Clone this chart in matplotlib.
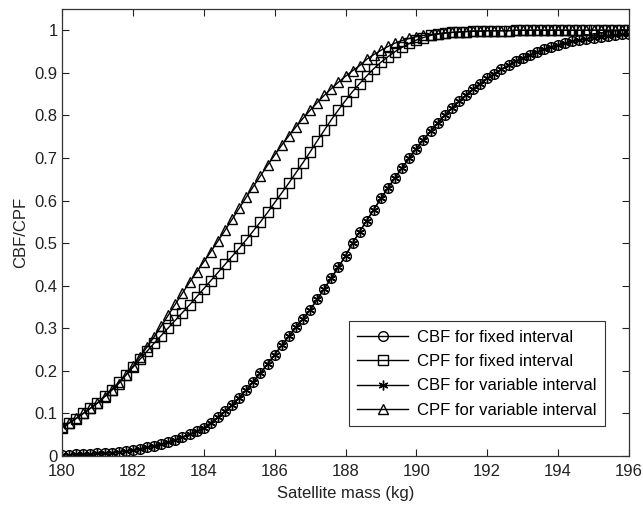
import matplotlib
matplotlib.use("Agg")
import matplotlib.pyplot as plt
import numpy as np

plt.rcParams['font.family'] = ['Liberation Sans', 'DejaVu Sans']

mass = [180.0 + 0.2 * i for i in range(81)]

cbf_fixed = [
    0.003, 0.003, 0.004, 0.004, 0.005, 0.006, 0.007, 0.008, 0.010, 0.012,
    0.014, 0.017, 0.020, 0.024, 0.028, 0.033, 0.038, 0.044, 0.051, 0.058,
    0.066, 0.078, 0.091, 0.105, 0.120, 0.137, 0.155, 0.175, 0.195, 0.216,
    0.238, 0.260, 0.281, 0.302, 0.322, 0.343, 0.368, 0.393, 0.418, 0.444,
    0.470, 0.500, 0.527, 0.553, 0.579, 0.605, 0.630, 0.654, 0.677, 0.700,
    0.722, 0.743, 0.763, 0.782, 0.800, 0.817, 0.833, 0.848, 0.862, 0.875,
    0.887, 0.898, 0.908, 0.918, 0.927, 0.935, 0.942, 0.949, 0.955, 0.961,
    0.966, 0.970, 0.974, 0.977, 0.980, 0.983, 0.985, 0.987, 0.989, 0.991,
    0.992,
]

cbf_variable = [
    0.003, 0.003, 0.004, 0.004, 0.005, 0.006, 0.007, 0.008, 0.010, 0.012,
    0.014, 0.017, 0.020, 0.024, 0.028, 0.033, 0.038, 0.044, 0.051, 0.058,
    0.066, 0.078, 0.091, 0.105, 0.120, 0.137, 0.155, 0.175, 0.195, 0.216,
    0.238, 0.260, 0.281, 0.302, 0.322, 0.343, 0.368, 0.393, 0.418, 0.444,
    0.470, 0.500, 0.527, 0.553, 0.579, 0.605, 0.630, 0.654, 0.677, 0.700,
    0.722, 0.743, 0.763, 0.782, 0.800, 0.817, 0.833, 0.848, 0.862, 0.875,
    0.887, 0.898, 0.908, 0.918, 0.927, 0.935, 0.942, 0.949, 0.955, 0.961,
    0.966, 0.970, 0.974, 0.977, 0.980, 0.983, 0.985, 0.987, 0.989, 0.991,
    0.992,
]

cpf_fixed = [
    0.066, 0.077, 0.088, 0.100, 0.112, 0.124, 0.140, 0.156, 0.173, 0.190,
    0.208, 0.227, 0.246, 0.265, 0.283, 0.301, 0.319, 0.337, 0.355, 0.374,
    0.393, 0.412, 0.431, 0.450, 0.469, 0.488, 0.508, 0.529, 0.550, 0.572,
    0.595, 0.618, 0.641, 0.665, 0.689, 0.714, 0.740, 0.765, 0.790, 0.813,
    0.835, 0.856, 0.875, 0.893, 0.910, 0.925, 0.938, 0.950, 0.960, 0.969,
    0.977, 0.983, 0.988, 0.991, 0.993, 0.995, 0.996, 0.997, 0.998, 0.998,
    0.999, 0.999, 0.999, 0.999, 1.000, 1.000, 1.000, 1.000, 1.000, 1.000,
    1.000, 1.000, 1.000, 1.000, 1.000, 1.000, 1.000, 1.000, 1.000, 1.000,
    1.000,
]

cpf_variable = [
    0.068, 0.078, 0.089, 0.100, 0.112, 0.125, 0.139, 0.154, 0.170, 0.190,
    0.211, 0.233, 0.256, 0.280, 0.305, 0.331, 0.357, 0.383, 0.408, 0.432,
    0.456, 0.480, 0.505, 0.530, 0.556, 0.582, 0.608, 0.633, 0.658, 0.683,
    0.707, 0.730, 0.752, 0.773, 0.793, 0.812, 0.830, 0.847, 0.863, 0.878,
    0.892, 0.905, 0.917, 0.932, 0.943, 0.953, 0.962, 0.970, 0.976, 0.981,
    0.985, 0.988, 0.990, 0.992, 0.994, 0.995, 0.996, 0.997, 0.998, 0.998,
    0.999, 0.999, 0.999, 0.999, 1.000, 1.000, 1.000, 1.000, 1.000, 1.000,
    1.000, 1.000, 1.000, 1.000, 1.000, 1.000, 1.000, 1.000, 1.000, 1.000,
    1.000,
]

labels = ["CBF for fixed interval", "CPF for fixed interval",
          "CBF for variable interval", "CPF for variable interval"]
xticks = [180, 182, 184, 186, 188, 190, 192, 194, 196]
yticks = [0, 0.1, 0.2, 0.3, 0.4, 0.5, 0.6, 0.7, 0.8, 0.9, 1]
yticklabels = ["0", "0.1", "0.2", "0.3", "0.4", "0.5", "0.6", "0.7", "0.8", "0.9", "1"]

fig = plt.figure(figsize=(6.43, 5.05), dpi=100)
ax = fig.add_axes([62 / 643, 1 - 456 / 505, 567 / 643, 447 / 505])

common = dict(color='black', linewidth=1.0, markersize=7, markerfacecolor='none',
              markeredgecolor='black', markeredgewidth=1.0)
ax.plot(mass, cbf_fixed, marker='o', label=labels[0], **common)
ax.plot(mass, cpf_fixed, marker='s', label=labels[1], **common)
ax.plot(mass, cbf_variable, marker=(6, 2, 0), label=labels[2], **common)
ax.plot(mass, cpf_variable, marker='^', label=labels[3], **common)

ax.set_xlim(180, 196)
ax.set_ylim(0, 1.05)
ax.set_xticks(xticks)
ax.set_yticks(yticks)
ax.set_yticklabels(yticklabels)
ax.tick_params(direction='in', length=5, top=True, right=True, labelsize=12,
               colors='#222222', width=0.8)
ax.tick_params(axis='x', pad=6)
ax.tick_params(axis='y', pad=3)
for s in ax.spines.values():
    s.set_color('#333333')
    s.set_linewidth(0.9)

ax.set_xlabel("Satellite mass (kg)", fontsize=12, color='#222222', labelpad=5)
ax.set_ylabel("CBF/CPF", fontsize=12, color='#222222', labelpad=5)

leg = ax.legend(loc='lower right', bbox_to_anchor=(0.958, 0.067), borderaxespad=0,
                fontsize=12, handlelength=3.05, fancybox=False, framealpha=1,
                edgecolor='#333333', labelspacing=0.56, borderpad=0.5,
                handletextpad=0.55, handleheight=0.7)
leg.get_frame().set_linewidth(0.8)

fig.savefig("out.png", dpi=100)
